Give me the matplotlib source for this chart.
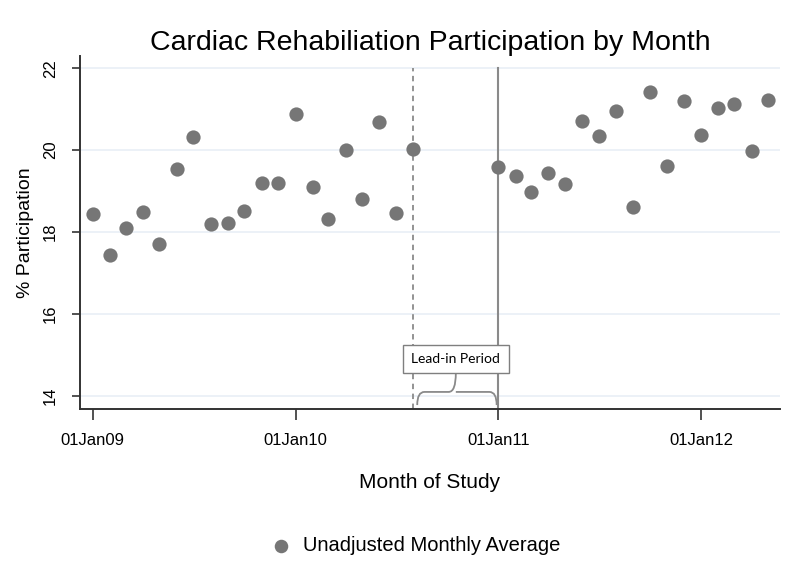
import datetime as dt
import matplotlib
matplotlib.use('Agg')
import matplotlib.pyplot as plt
import matplotlib.dates as mdates
from matplotlib.path import Path
from matplotlib.patches import PathPatch

# 月份与参与率
months = ['2009-01', '2009-02', '2009-03', '2009-04', '2009-05', '2009-06',
          '2009-07', '2009-08', '2009-09', '2009-10', '2009-11', '2009-12',
          '2010-01', '2010-02', '2010-03', '2010-04', '2010-05', '2010-06',
          '2010-07', '2010-08',
          '2011-01', '2011-02', '2011-03', '2011-04', '2011-05', '2011-06',
          '2011-07', '2011-08', '2011-09', '2011-10', '2011-11', '2011-12',
          '2012-01', '2012-02', '2012-03', '2012-04', '2012-05']
participation = [18.44, 17.45, 18.11, 18.50, 17.71, 19.55,
                 20.31, 18.19, 18.23, 18.52, 19.20, 19.20,
                 20.89, 19.10, 18.31, 20.00, 18.80, 20.69,
                 18.46, 20.02,
                 19.60, 19.38, 18.97, 19.44, 19.18, 20.72,
                 20.34, 20.96, 18.61, 21.43, 19.62, 21.21,
                 20.36, 21.04, 21.13, 19.99, 21.23]
tick_dates = ['2009-01-01', '2010-01-01', '2011-01-01', '2012-01-01']
tick_labels = ['01Jan09', '01Jan10', '01Jan11', '01Jan12']
y_ticks = [14, 16, 18, 20, 22]
lead_start = '2010-08-01'
lead_end = '2011-01-01'

dates = [dt.datetime.strptime(m + '-01', '%Y-%m-%d') for m in months]
to_num = lambda s: mdates.date2num(dt.datetime.strptime(s, '%Y-%m-%d'))

plt.rcParams['font.family'] = ['Liberation Sans', 'DejaVu Sans']

fig = plt.figure(figsize=(8, 5.82), dpi=100)
ax = fig.add_axes([0.1, 0.297, 0.875, 0.607])

gray = '#767676'
ax.scatter(dates, participation, s=105, color=gray, zorder=3,
           label='Unadjusted Monthly Average', linewidths=0)

# 导入期竖线
x0, x1 = to_num(lead_start), to_num(lead_end)
ax.plot([x0, x0], [13.68, 22], color='#8a8a8a', lw=1.3, ls=(0, (3, 2.5)), zorder=2)
ax.plot([x1, x1], [13.68, 22], color='#8a8a8a', lw=1.5, zorder=2)

# 大括号
xa, xb = x0 + 7, x1 - 3
xm = (x0 + x1) / 2
yb, yh, yt = 13.78, 14.1, 14.56
w = 13
verts = [(xa, yb), (xa, yh), (xa + w, yh), (xm - w, yh), (xm, yh), (xm, yt),
         (xm, yh), (xm + w, yh), (xb - w, yh), (xb, yh), (xb, yb)]
codes = [Path.MOVETO, Path.CURVE3, Path.CURVE3, Path.LINETO, Path.CURVE3, Path.CURVE3,
         Path.MOVETO, Path.CURVE3, Path.LINETO, Path.CURVE3, Path.CURVE3]
ax.add_patch(PathPatch(Path(verts, codes), fill=False, ec='#8a8a8a', lw=1.3, zorder=2))
ax.text(xm, 14.9, 'Lead-in Period', ha='center', va='center', fontsize=10,
        family=['Lato', 'DejaVu Sans'],
        bbox=dict(boxstyle='square,pad=0.6', fc='white', ec='#7f7f7f', lw=1), zorder=4)

ax.set_xlim(to_num('2008-12-09'), to_num('2012-05-22'))
ax.set_ylim(13.68, 22.3)
ax.set_xticks([to_num(d) for d in tick_dates])
ax.set_xticklabels(tick_labels, fontsize=12)
ax.set_yticks(y_ticks)
ax.set_yticklabels([str(v) for v in y_ticks], rotation=90, va='center', fontsize=12)
ax.tick_params(axis='x', length=8, width=1.2, pad=9, color='#333333')
ax.tick_params(axis='y', length=6, width=1.2, pad=10, color='#333333')
ax.grid(axis='y', color='#e9eff6', lw=1.2, zorder=0)
ax.set_axisbelow(True)
for s in ['top', 'right']:
    ax.spines[s].set_visible(False)
for s in ['left', 'bottom']:
    ax.spines[s].set_linewidth(1.4)
    ax.spines[s].set_color('#333333')

ax.set_title('Cardiac Rehabiliation Participation by Month', fontsize=20.5, pad=4)
ax.set_xlabel('Month of Study', fontsize=15, labelpad=18)
ax.set_ylabel('% Participation', fontsize=14, labelpad=6)

fig.legend(loc='lower center', bbox_to_anchor=(0.52, 0.015), frameon=False,
           handlelength=1.0, handletextpad=0.6, markerscale=0.95,
           prop={'size': 14.5})

fig.savefig('out.png', dpi=100)
